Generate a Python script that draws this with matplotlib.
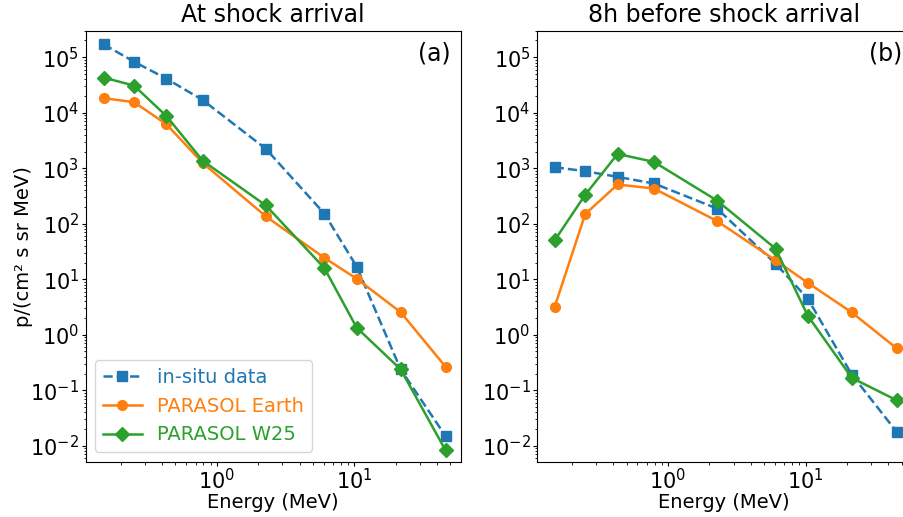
import numpy as np
import matplotlib
matplotlib.use("Agg")
import matplotlib.pyplot as plt

# Energia de cada canal (MeV)
energy = [0.15, 0.25, 0.43, 0.79, 2.27, 6.05, 10.4, 21.7, 46.0]

# (a) a la llegada del choque
insitu_a = [1.71e5, 8.3e4, 4.1e4, 1.69e4, 2.24e3, 152, 16.9, 0.238, 0.015]
earth_a = [1.83e4, 1.55e4, 6.2e3, 1.24e3, 136, 24.3, 10.2, 2.55, 0.266]
w25_a = [4.3e4, 3.08e4, 8.7e3, 1.36e3, 214, 15.9, 1.34, 0.238, 8.3e-3]

# (b) 8 h antes
insitu_b = [1042, 884, 698, 531, 188, 19.1, 4.43, 0.191, 0.0178]
earth_b = [3.18, 149, 509, 431, 112, 21.9, 8.6, 2.52, 0.568]
w25_b = [50.2, 332, 1807, 1300, 262, 35.6, 2.19, 0.167, 0.066]

titles = ["At shock arrival", "8h before shock arrival"]
panel_tags = ["(a)", "(b)"]

plt.rcParams['font.size'] = 14

fig = plt.figure(figsize=(9.04, 5.17), dpi=100)
ax1 = fig.add_axes([0.0946, 0.1064, 0.4150, 0.8342])
ax2 = fig.add_axes([0.5937, 0.1064, 0.4150, 0.8342])

datos = [(insitu_a, earth_a, w25_a), (insitu_b, earth_b, w25_b)]

for ax, (ins, ear, w25), tit, tag in zip([ax1, ax2], datos, titles, panel_tags):
    ax.plot(energy, ins, 's--', color='tab:blue', lw=1.8, ms=7, label='in-situ data')
    ax.plot(energy, ear, 'o-', color='tab:orange', lw=1.8, ms=7, label='PARASOL Earth')
    ax.plot(energy, w25, 'D-', color='tab:green', lw=1.8, ms=7, label='PARASOL W25')
    ax.set_xscale('log')
    ax.set_yscale('log')
    ax.set_xlim(0.111, 59.3)
    ax.set_ylim(5.1e-3, 3.0e5)
    ax.tick_params(which='major', length=3, pad=1.5, labelsize=15)
    ax.tick_params(which='minor', length=1.8)
    ax.set_xlabel('Energy (MeV)', labelpad=0)
    ax.set_title(tit, fontsize=17)
    ax.text(0.974, 0.975, tag, transform=ax.transAxes, ha='right', va='top', fontsize=17)

ax1.set_ylabel('p/(cm² s sr MeV)')
ax1.yaxis.set_label_coords(-0.14, 0.5)
ax1.legend(loc='lower left', labelcolor='linecolor', fontsize=14)

fig.savefig('out.png', dpi=100)
